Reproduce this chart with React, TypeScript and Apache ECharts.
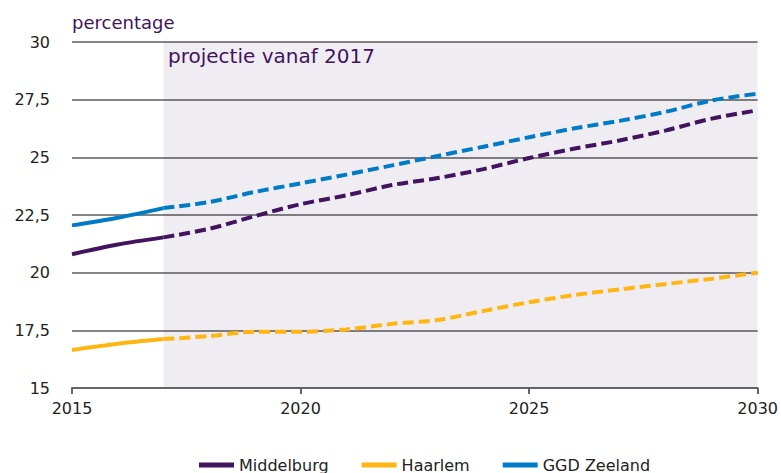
import React, { useEffect, useRef } from "react";
import * as echarts from "echarts";

const years = [2015, 2016, 2017, 2018, 2019, 2020, 2021, 2022, 2023, 2024, 2025, 2026, 2027, 2028, 2029, 2030];
const middelburg = [20.8, 21.22, 21.53, 21.9, 22.45, 22.97, 23.35, 23.8, 24.1, 24.49, 24.97, 25.38, 25.74, 26.17, 26.68, 27.04];
const haarlem = [16.65, 16.92, 17.12, 17.25, 17.44, 17.44, 17.54, 17.78, 17.95, 18.34, 18.72, 19.03, 19.28, 19.51, 19.74, 20.0];
const zeeland = [22.05, 22.38, 22.8, 23.06, 23.5, 23.87, 24.25, 24.65, 25.06, 25.46, 25.87, 26.26, 26.59, 26.98, 27.47, 27.76];
const projectionStart = 2017;
const seriesNames = ["Middelburg", "Haarlem", "GGD Zeeland"];
const seriesColors = ["#42145f", "#ffb612", "#007bc7"];

const FONT = "'DejaVu Sans', Verdana, sans-serif";

export default function App() {
  const ref = useRef<HTMLDivElement>(null);
  useEffect(() => {
    if (!ref.current) return;
    const chart = echarts.init(ref.current, undefined, { renderer: "svg" });
    const all = [middelburg, haarlem, zeeland];
    const startIdx = years.indexOf(projectionStart);
    const series: any[] = [
      {
        name: "projectie",
        type: "line",
        data: [],
        z: -1,
        silent: true,
        markArea: {
          silent: true,
          itemStyle: { color: "rgba(66,20,95,0.08)" },
          data: [[{ xAxis: projectionStart }, { xAxis: years[years.length - 1] }]],
        },
      },
    ];
    all.forEach((vals, i) => {
      series.push({
        name: seriesNames[i],
        type: "line",
        smooth: 0.3,
        showSymbol: false,
        color: seriesColors[i],
        lineStyle: { width: 4, color: seriesColors[i] },
        data: years.slice(0, startIdx + 1).map((y, k) => [y, vals[k]]),
        z: 3,
      });
      series.push({
        name: seriesNames[i],
        type: "line",
        smooth: 0.3,
        showSymbol: false,
        color: seriesColors[i],
        lineStyle: { width: 4, color: seriesColors[i], type: [11, 5] },
        data: years.slice(startIdx).map((y, k) => [y, vals[startIdx + k]]),
        z: 3,
      });
    });
    chart.setOption({
      animation: false,
      textStyle: { fontFamily: FONT },
      grid: { left: 72, right: 23, top: 42, bottom: 85 },
      xAxis: {
        type: "value",
        min: 2015,
        max: 2030,
        interval: 5,
        axisLine: { show: true, lineStyle: { color: "#666", width: 2 } },
        axisTick: { show: true, length: 6, lineStyle: { color: "#666", width: 2 } },
        axisLabel: {
          color: "#222",
          fontSize: 16,
          margin: 12,
          fontFamily: FONT,
          formatter: (v: number) => String(v),
        },
        splitLine: { show: false },
      },
      yAxis: {
        type: "value",
        min: 15,
        max: 30,
        interval: 2.5,
        axisLine: { show: false },
        axisTick: { show: false },
        axisLabel: {
          color: "#222",
          fontSize: 16,
          margin: 22,
          fontFamily: FONT,
          formatter: (v: number) => String(v).replace(".", ","),
        },
        splitLine: { show: true, lineStyle: { color: "#858585", width: 2 } },
      },
      legend: {
        left: 194,
        top: 452,
        icon: "rect",
        itemWidth: 35,
        itemHeight: 5,
        itemGap: 33,
        textStyle: { fontSize: 16, color: "#222", fontFamily: FONT },
        data: seriesNames,
      },
      graphic: [
        {
          type: "text",
          left: 72,
          top: 13,
          style: { text: "percentage", fontSize: 18, fill: "#42145f", fontFamily: FONT },
        },
        {
          type: "text",
          left: 168,
          top: 46,
          z: 10,
          style: { text: "projectie vanaf 2017", fontSize: 20, fill: "#42145f", fontFamily: FONT },
        },
      ],
      series,
    });
    return () => chart.dispose();
  }, []);
  return <div ref={ref} style={{ width: 781, height: 473, position: "absolute", left: 0, top: 0 }} />;
}
